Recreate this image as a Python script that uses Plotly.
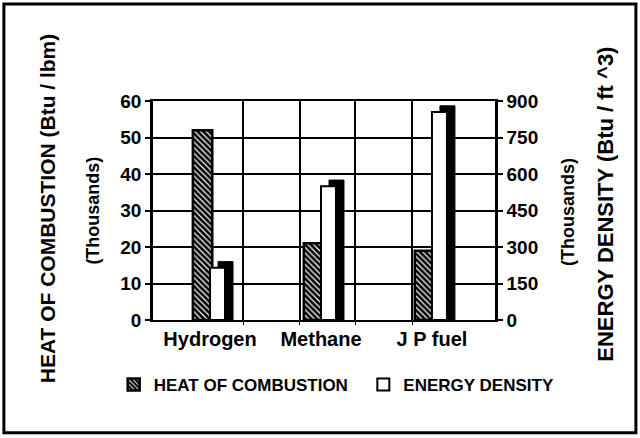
import plotly.graph_objects as go

# ---- data ----
fuels = ["Hydrogen", "Methane", "J P fuel"]
heat_combustion = [52, 21, 19]          # thousand Btu / lbm (left axis)
energy_density = [215, 550, 855]        # thousand Btu / ft^3 (right axis)
left_ticks = [0, 10, 20, 30, 40, 50, 60]
right_ticks = [0, 150, 300, 450, 600, 750, 900]
depth_grid = [0.30, 0.81, 1.31, 1.82]   # vertical grid lines of the 3-D back wall

FONT = "Liberation Sans, Arial, sans-serif"
xr = [-0.514, 2.568]
shadow_dy = 25  # pseudo 3-D depth, in right-axis units

fig = go.Figure()

# hatched heat-of-combustion bars
fig.add_trace(go.Bar(
    x=list(range(len(fuels))), y=heat_combustion, name="HEAT OF COMBUSTION",
    offset=-0.155, width=0.175,
    marker=dict(color="black", line=dict(color="black", width=2.5),
                pattern=dict(shape="\\", fgcolor="white", bgcolor="black",
                             size=4, solidity=0.3, fillmode="replace")),
    xaxis="x", yaxis="y", legend="legend",
))

# black depth shadow of the energy-density bars
fig.add_trace(go.Bar(
    x=list(range(len(fuels))), y=[v + shadow_dy for v in energy_density],
    offset=0.072, width=0.135,
    marker=dict(color="black", line=dict(color="black", width=1)),
    xaxis="x", yaxis="y2", showlegend=False, hoverinfo="skip",
))

# white energy-density bars
fig.add_trace(go.Bar(
    x=list(range(len(fuels))), y=energy_density, name="ENERGY DENSITY",
    offset=0.0, width=0.135,
    marker=dict(color="white", line=dict(color="black", width=2)),
    xaxis="x", yaxis="y2", legend="legend2",
))

# invisible trace carrying the back-wall grid axis
fig.add_trace(go.Scatter(
    x=depth_grid, y=[0] * len(depth_grid), mode="none",
    xaxis="x2", yaxis="y", showlegend=False, hoverinfo="skip",
))

legend_common = dict(
    orientation="h", yanchor="middle", xanchor="left",
    font=dict(size=17, weight="bold"), bgcolor="rgba(0,0,0,0)",
)

fig.update_layout(
    width=640, height=438,
    margin=dict(l=153, r=145, t=101, b=118),
    paper_bgcolor="white", plot_bgcolor="white",
    barmode="overlay",
    font=dict(family=FONT, color="black"),
    xaxis=dict(
        range=xr, tickvals=list(range(len(fuels))), ticktext=fuels,
        tickfont=dict(size=20, weight="bold"), ticks="", showgrid=False,
        showline=True, linecolor="black", linewidth=2, mirror=True,
        zeroline=False,
    ),
    xaxis2=dict(
        range=xr, overlaying="x", tickvals=depth_grid, showticklabels=False,
        showgrid=True, gridcolor="black", gridwidth=1.5,
        ticks="outside", ticklen=4, tickcolor="black", zeroline=False,
        side="bottom",
    ),
    yaxis=dict(
        range=[0, 60], tickvals=left_ticks,
        tickfont=dict(size=19, weight="bold"),
        showgrid=True, gridcolor="black", gridwidth=1.5,
        showline=True, linecolor="black", linewidth=2.5,
        ticks="outside", ticklen=5, tickwidth=1.5, tickcolor="black",
        zeroline=False,
    ),
    yaxis2=dict(
        range=[0, 900], tickvals=right_ticks, overlaying="y", side="right",
        tickfont=dict(size=19, weight="bold"), showgrid=False,
        showline=True, linecolor="black", linewidth=2.5,
        ticks="outside", ticklen=5, tickwidth=1.5, tickcolor="black",
        zeroline=False,
    ),
    legend=dict(x=-0.115, y=-0.297, **legend_common),
    legend2=dict(x=0.615, y=-0.297, **legend_common),
    annotations=[
        dict(text="HEAT OF COMBUSTION (Btu / lbm)", textangle=-90,
             xref="paper", yref="paper", x=-0.31, y=0.51,
             xanchor="center", yanchor="middle",
             showarrow=False, font=dict(size=21, weight="bold")),
        dict(text="(Thousands)", textangle=-90,
             xref="paper", yref="paper", x=-0.178, y=0.50,
             xanchor="center", yanchor="middle",
             showarrow=False, font=dict(size=18, weight="bold")),
        dict(text="(Thousands)", textangle=-90,
             xref="paper", yref="paper", x=1.213, y=0.493,
             xanchor="center", yanchor="middle",
             showarrow=False, font=dict(size=18, weight="bold")),
        dict(text="ENERGY DENSITY (Btu / ft ^3)", textangle=-90,
             xref="paper", yref="paper", x=1.324, y=0.53,
             xanchor="center", yanchor="middle",
             showarrow=False, font=dict(size=22, weight="bold")),
    ],
    shapes=[
        dict(type="rect", xref="paper", yref="paper",
             x0=-0.436, x1=1.412, y0=-0.515, y1=1.443,
             line=dict(color="black", width=3), layer="below"),
    ],
)

fig.write_html("out.html", config={"displayModeBar": False},
               post_script="document.body.style.margin='0';")
